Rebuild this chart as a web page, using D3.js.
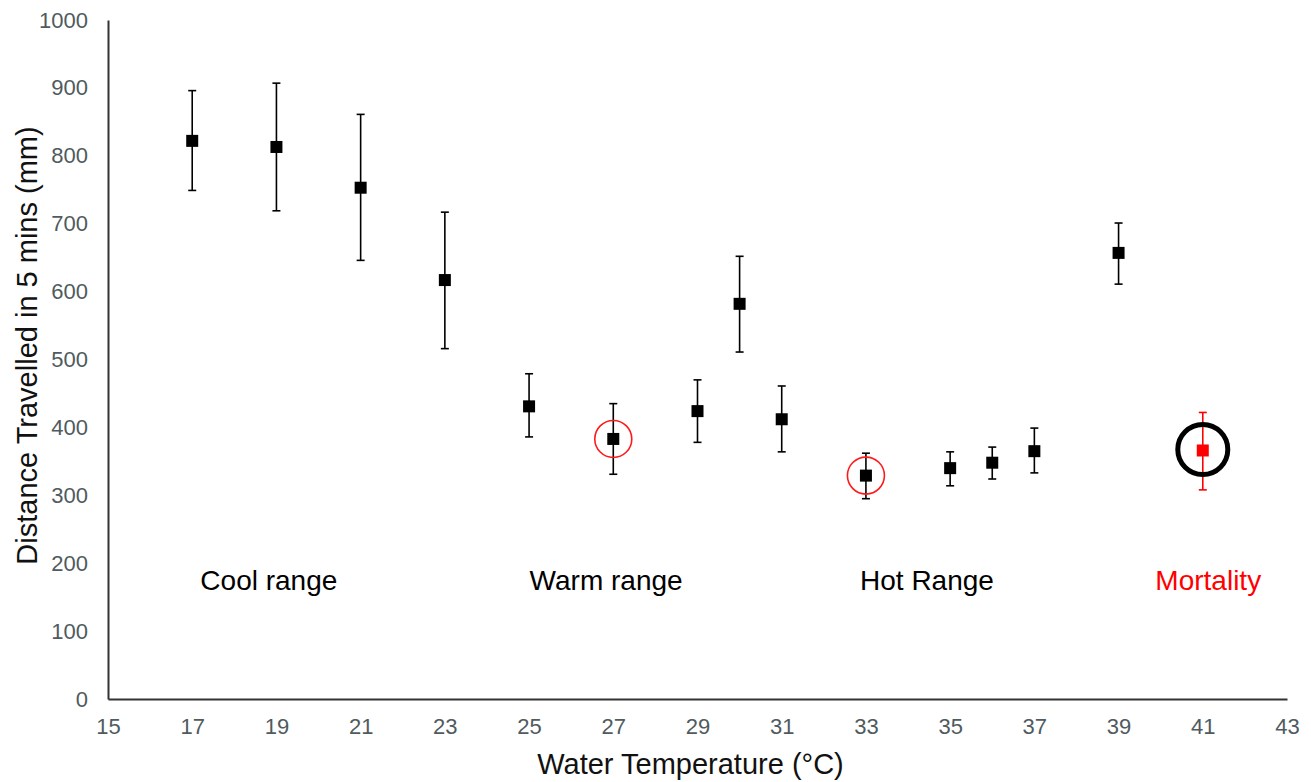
<!DOCTYPE html>
<html>
<head>
<meta charset="utf-8">
<script src="https://cdn.jsdelivr.net/npm/d3@7"></script>
<style>
  body { margin: 0; background: #fff; }
  text { font-family: Arial, "Liberation Sans", sans-serif; }
</style>
</head>
<body>
<div id="chart"></div>
<script>
    // data
    let temps = [17, 19, 21, 23, 25, 27, 29, 30, 31, 33, 35, 36, 37, 39, 41];
    let means = [822, 813, 753, 617, 431, 383, 424, 582, 412, 329, 340, 348, 365, 657, 366];
    let upper = [896, 907, 861, 717, 479, 435, 470, 652, 461, 362, 364, 371, 399, 701, 422];
    let lower = [749, 719, 646, 516, 386, 331, 378, 511, 364, 295, 314, 324, 333, 611, 308];

    let xTicks = [15, 17, 19, 21, 23, 25, 27, 29, 31, 33, 35, 37, 39, 41, 43];
    let yTicks = [0, 100, 200, 300, 400, 500, 600, 700, 800, 900, 1000];

    let rangeNames = ["Cool range", "Warm range", "Hot Range", "Mortality"];
    let rangeX = [18.82, 26.83, 34.45, 41.13];
    let redCircled = [27, 33];
    let mortalityTemp = 41;

    let margin = {top: 20, right: 24, bottom: 83, left: 108},
        width = 1311 - margin.left - margin.right,
        height = 782 - margin.top - margin.bottom;

    let svg = d3.select("#chart")
      .append("svg")
        .attr("width", width + margin.left + margin.right)
        .attr("height", height + margin.top + margin.bottom)
      .append("g")
        .attr("transform", "translate(" + margin.left + "," + margin.top + ")");

    let x = d3.scaleLinear().domain([15, 43]).range([0, width]);
    let y = d3.scaleLinear().domain([0, 1000]).range([height, 0]);

    // x axis
    let xAxis = svg.append("g")
        .attr("transform", "translate(0," + height + ")")
        .call(d3.axisBottom(x).tickValues(xTicks).tickFormat(d3.format("d")).tickSize(0).tickPadding(19));
    xAxis.select(".domain").attr("stroke", "#333").attr("stroke-width", 2);
    xAxis.selectAll("text").style("font-size", "22px").attr("fill", "#4f5b5e");

    // y axis
    let yAxis = svg.append("g")
        .call(d3.axisLeft(y).tickValues(yTicks).tickFormat(d3.format("d")).tickSize(0).tickPadding(20));
    yAxis.select(".domain").attr("stroke", "#333").attr("stroke-width", 2);
    yAxis.selectAll("text").style("font-size", "22px").attr("fill", "#4f5b5e");

    // axis titles
    svg.append("text")
        .attr("x", width / 2 - 7)
        .attr("y", height + 75)
        .attr("text-anchor", "middle")
        .style("font-size", "29px")
        .attr("fill", "#111")
        .text("Water Temperature (°C)");

    svg.append("text")
        .attr("transform", "rotate(-90)")
        .attr("x", -height / 2 + 14)
        .attr("y", -71)
        .attr("text-anchor", "middle")
        .style("font-size", "29px")
        .attr("fill", "#111")
        .text("Distance Travelled in 5 mins (mm)");

    let pts = temps.map((t, i) => ({t: t, m: means[i], hi: upper[i], lo: lower[i]}));
    let colorOf = d => d.t === mortalityTemp ? "#ff0000" : "#000";

    // error bars
    svg.selectAll(".err")
        .data(pts)
        .enter()
        .append("line")
        .attr("x1", d => x(d.t)).attr("x2", d => x(d.t))
        .attr("y1", d => y(d.hi)).attr("y2", d => y(d.lo))
        .attr("stroke", colorOf)
        .attr("stroke-width", 1.6);

    ["hi", "lo"].forEach(k => {
        svg.selectAll(".cap-" + k)
            .data(pts)
            .enter()
            .append("line")
            .attr("x1", d => x(d.t) - 4).attr("x2", d => x(d.t) + 4)
            .attr("y1", d => y(d[k])).attr("y2", d => y(d[k]))
            .attr("stroke", colorOf)
            .attr("stroke-width", 1.6);
    });

    // markers
    svg.selectAll(".pt")
        .data(pts)
        .enter()
        .append("rect")
        .attr("x", d => x(d.t) - 6)
        .attr("y", d => y(d.m) - 6)
        .attr("width", 12)
        .attr("height", 12)
        .attr("fill", colorOf);

    // red highlight circles
    svg.selectAll(".ring")
        .data(pts.filter(d => redCircled.includes(d.t)))
        .enter()
        .append("circle")
        .attr("cx", d => x(d.t))
        .attr("cy", d => y(d.m))
        .attr("r", 18.5)
        .attr("fill", "none")
        .attr("stroke", "#ff1a1a")
        .attr("stroke-width", 1.6);

    // black mortality circle
    let mort = pts.find(d => d.t === mortalityTemp);
    svg.append("circle")
        .attr("cx", x(mort.t))
        .attr("cy", y(mort.m) - 1)
        .attr("r", 25)
        .attr("fill", "none")
        .attr("stroke", "#000")
        .attr("stroke-width", 5);

    // range labels
    svg.selectAll(".range")
        .data(rangeNames)
        .enter()
        .append("text")
        .attr("x", (d, i) => x(rangeX[i]))
        .attr("y", y(175) + 10)
        .attr("text-anchor", "middle")
        .style("font-size", "28px")
        .attr("fill", (d, i) => i === 3 ? "#ff0000" : "#000")
        .text(d => d);
</script>
</body>
</html>
